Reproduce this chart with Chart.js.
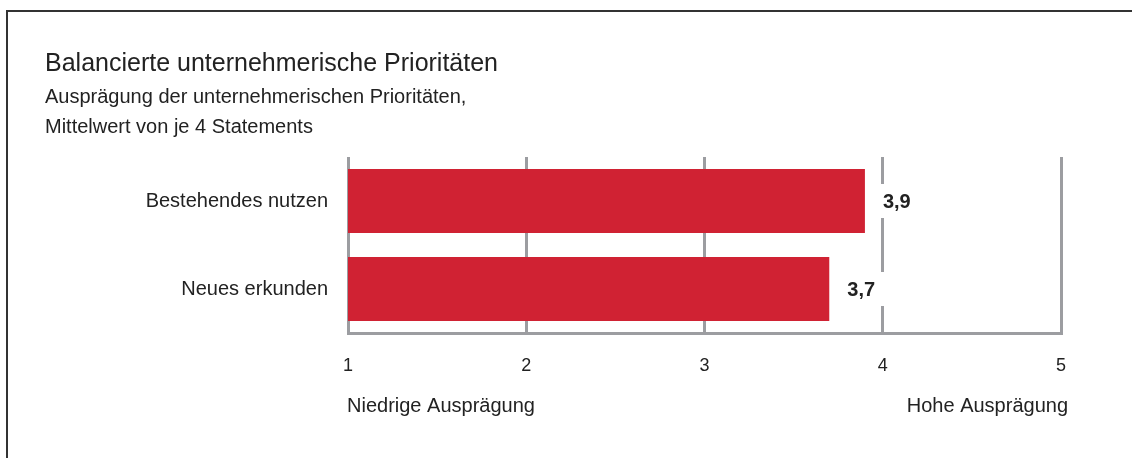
<!DOCTYPE html>
<html>
<head>
<meta charset="utf-8">
<script src="https://cdn.jsdelivr.net/npm/chart.js"></script>
<style>
  body { margin: 0; background: #fff; }
  #wrap { position: relative; width: 1132px; height: 458px; overflow: hidden; }
  #frame { position: absolute; left: 6px; top: 10px; right: -10px; bottom: -10px; border-top: 2px solid #333; border-left: 2px solid #333; }
  canvas { position: absolute; left: 0; top: 0; }
</style>
</head>
<body>
<div id="wrap">
  <div id="frame"></div>
  <canvas id="myChart1" width="1132" height="458"></canvas>
</div>
<script>
const categories = ['Bestehendes nutzen', 'Neues erkunden'];
const values = [3.9, 3.7];
const tickValues = [1, 2, 3, 4, 5];
const axisLabels = ['Niedrige Ausprägung', 'Hohe Ausprägung'];

const fontFam = '"Liberation Sans", Arial, sans-serif';
const gridColor = '#9c9da1';
const textColor = '#222';

// Werte neben die Balken, mit weissem Hintergrund (unterbricht die Gitterlinie)
const valueLabels = {
    id: 'valueLabels',
    afterDatasetsDraw(chart) {
        let ctx = chart.ctx;
        let meta = chart.getDatasetMeta(0);
        ctx.save();
        ctx.font = 'bold 20px ' + fontFam;
        ctx.textBaseline = 'middle';
        meta.data.forEach((bar, i) => {
            let txt = values[i].toFixed(1).replace('.', ',');
            let w = ctx.measureText(txt).width;
            let x = bar.x + 18;
            ctx.fillStyle = '#fff';
            ctx.fillRect(x - 6, bar.y - 17, w + 16, 34);
            ctx.fillStyle = textColor;
            ctx.fillText(txt, x, bar.y + 1);
        });
        ctx.restore();
    }
};

// "Niedrige" links, "Hohe" rechts unter der Achse
const axisEnds = {
    id: 'axisEnds',
    afterDraw(chart) {
        let ctx = chart.ctx;
        let area = chart.chartArea;
        ctx.save();
        ctx.font = '20px ' + fontFam;
        ctx.fillStyle = textColor;
        ctx.textBaseline = 'alphabetic';
        ctx.textAlign = 'left';
        ctx.fillText(axisLabels[0], area.left - 1, 412);
        ctx.textAlign = 'right';
        ctx.fillText(axisLabels[1], area.right + 7, 412);
        ctx.restore();
    }
};

let ctx = document.getElementById('myChart1').getContext('2d');
let myChart1 = new Chart(ctx, {
    type: 'bar',
    data: {
        labels: categories,
        datasets: [{
            data: values,
            backgroundColor: '#d02233',
            borderWidth: 0,
            categoryPercentage: 1,
            barPercentage: 0.727
        }]
    },
    options: {
        indexAxis: 'y',
        responsive: false,
        animation: false,
        layout: {
            padding: { left: 45, right: 71, top: 0, bottom: 0 }
        },
        scales: {
            x: {
                type: 'linear',
                min: 1,
                max: 5,
                afterBuildTicks: (scale) => {
                    scale.ticks = tickValues.map(v => ({ value: v }));
                },
                afterFit: (scale) => { scale.height = 125; },
                grid: {
                    color: gridColor,
                    lineWidth: 3,
                    drawTicks: false
                },
                border: { display: true, color: gridColor, width: 3 },
                ticks: {
                    padding: 22,
                    color: textColor,
                    font: { family: fontFam, size: 18 }
                }
            },
            y: {
                afterFit: (scale) => { scale.width = 303; },
                grid: { display: false, drawTicks: false },
                border: { display: false },
                ticks: {
                    padding: 20,
                    color: textColor,
                    font: { family: fontFam, size: 20 }
                }
            }
        },
        plugins: {
            legend: { display: false },
            tooltip: { enabled: false },
            title: {
                display: true,
                text: 'Balancierte unternehmerische Prioritäten',
                align: 'start',
                color: textColor,
                font: { family: fontFam, size: 25, weight: 'normal', lineHeight: 1.2 },
                padding: { top: 49, bottom: 3 }
            },
            subtitle: {
                display: true,
                text: ['Ausprägung der unternehmerischen Prioritäten,', 'Mittelwert von je 4 Statements'],
                align: 'start',
                color: textColor,
                font: { family: fontFam, size: 20, weight: 'normal', lineHeight: 1.5 },
                padding: { top: 0, bottom: 15 }
            }
        }
    },
    plugins: [valueLabels, axisEnds]
});
</script>
</body>
</html>
